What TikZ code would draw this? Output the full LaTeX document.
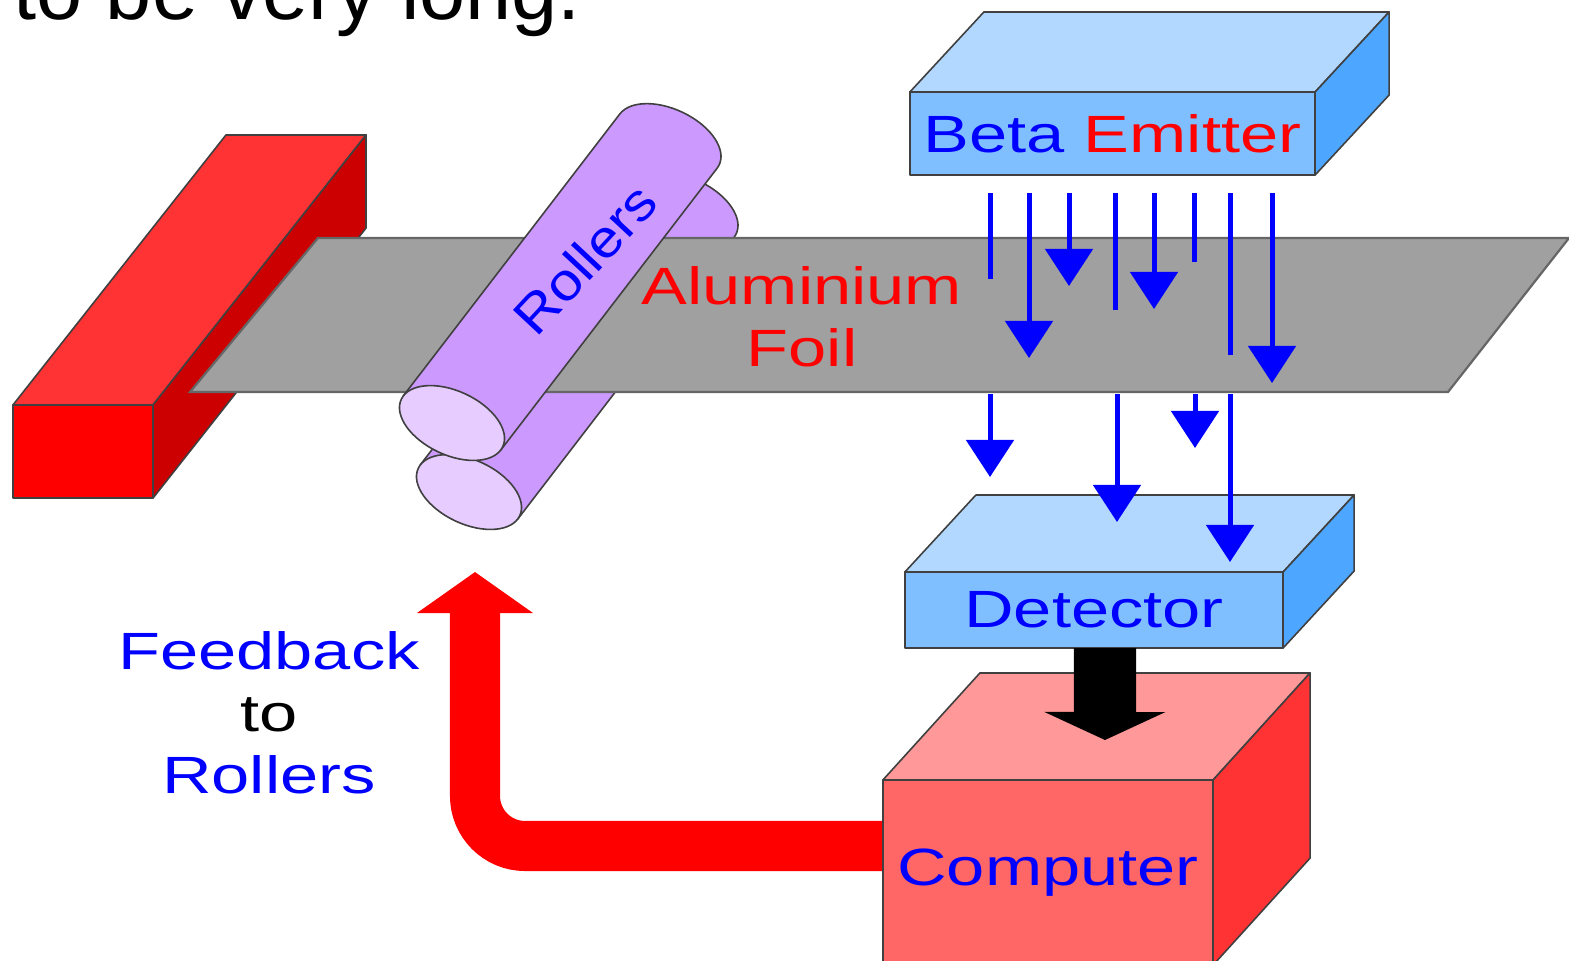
\documentclass[tikz,border=0pt]{standalone}
\usepackage{fontspec}
\setmainfont{Liberation Sans}
\newfontfamily\tagfont[FakeStretch=1.31]{Liberation Sans}
\newfontfamily\rolltagfont[FakeStretch=1.12]{Liberation Sans}
\usetikzlibrary{arrows.meta,calc}

\definecolor{clampfr}{RGB}{255,0,0}
\definecolor{clamptop}{RGB}{255,51,51}
\definecolor{clampside}{RGB}{204,0,0}
\definecolor{rollbody}{RGB}{204,153,255}
\definecolor{rollend}{RGB}{230,204,255}
\definecolor{foilgrey}{RGB}{160,160,160}
\definecolor{boxtop}{RGB}{178,216,255}
\definecolor{boxfront}{RGB}{128,191,255}
\definecolor{boxside}{RGB}{77,166,255}
\definecolor{comptop}{RGB}{255,153,153}
\definecolor{compfront}{RGB}{255,102,102}
\definecolor{compside}{RGB}{255,51,51}
\definecolor{beta}{RGB}{0,0,255}

\begin{document}
\begin{tikzpicture}[
    x=0.01cm, y=-0.01cm,
    tag/.style={font=\tagfont\fontsize{14.9}{17.6}\selectfont, inner sep=0pt,
                align=center},
    face/.style={draw=black!75, line width=0.016cm, line join=round},
    front/.style={face, rectangle, inner sep=0pt, outer sep=0pt},
    foil/.style={draw=black!60, line width=0.022cm, fill=foilgrey},
    ray/.style={draw=beta, line width=0.05cm},
    hit/.style={ray, -{Triangle[width=0.47cm, length=0.37cm]}},
    signal/.style={draw=black, line width=0.62cm,
                   -{Triangle[width=1.2cm, length=0.28cm]}},
    feedback/.style={draw=red, line width=0.5cm, rounded corners=0.5cm,
                     -{Triangle[width=1.14cm, length=0.41cm]}},
  ]
  \useasboundingbox (0,0) rectangle (1569,960);

  %% heading line of the slide, cut at the top
  \node[font=\fontsize{23.6}{28}\selectfont, anchor=base west, inner sep=0pt]
    (head) at (13,19) {to be very long.};

  %% ================================================================
  %% clamp, rollers and foil
  %% ================================================================
  \node[front, fill=clampfr, minimum width=1.40cm, minimum height=0.93cm]
    (clamp) at (83,451.5) {};
  \draw[face, fill=clamptop] (clamp.north west)
    -- ($(clamp.north west)+(213,-270)$) -- ($(clamp.north east)+(213,-270)$)
    -- (clamp.north east) -- cycle;
  \draw[face, fill=clampside] (clamp.north east)
    -- ($(clamp.north east)+(213,-270)$) -- ($(clamp.south east)+(213,-270)$)
    -- (clamp.south east) -- cycle;

  %% lower roller sits under the foil
  \begin{scope}[shift={(469,492)}, rotate=-25]
    \draw[face, fill=rollbody] (55.6,4) -- ++(77,-347)
      arc[start angle=7.2, end angle=-172.8, x radius=56, y radius=32]
      -- (-55.6,-4) -- cycle;
    \draw[face, fill=rollend] (0,0) ellipse [x radius=56, y radius=32];
  \end{scope}

  \draw[foil] (190,392) -- (318,238) -- (1569,238) -- (1448,392) -- cycle;

  %% upper roller lies on the foil
  \begin{scope}[shift={(452,423)}, rotate=-25]
    \draw[face, fill=rollbody] (55.6,4) -- ++(77,-347)
      arc[start angle=7.2, end angle=-172.8, x radius=56, y radius=32]
      -- (-55.6,-4) -- cycle;
    \draw[face, fill=rollend] (0,0) ellipse [x radius=56, y radius=32];
  \end{scope}

  \node[tag, font=\rolltagfont\fontsize{14.9}{17.6}\selectfont, text=blue,
        rotate=47] (rolltag) at (585,259) {Rollers};
  \node[tag, text=red] (foiltag) at (802,317) {Aluminium\\Foil};

  %% ================================================================
  %% emitter, detector and computer
  %% ================================================================
  \node[front, fill=boxfront, minimum width=4.05cm, minimum height=0.83cm,
        tag, text=blue] (emit) at (1112.5,133.5) {Beta \textcolor{red}{Emitter}};
  \draw[face, fill=boxtop] (emit.north west)
    -- ($(emit.north west)+(74,-80)$) -- ($(emit.north east)+(74,-80)$)
    -- (emit.north east) -- cycle;
  \draw[face, fill=boxside] (emit.north east)
    -- ($(emit.north east)+(74,-80)$) -- ($(emit.south east)+(74,-80)$)
    -- (emit.south east) -- cycle;

  \node[front, fill=boxfront, minimum width=3.78cm, minimum height=0.76cm,
        tag, text=blue] (det) at (1094,610) {Detector};
  \draw[face, fill=boxtop] (det.north west)
    -- ($(det.north west)+(71,-77)$) -- ($(det.north east)+(71,-77)$)
    -- (det.north east) -- cycle;
  \draw[face, fill=boxside] (det.north east)
    -- ($(det.north east)+(71,-77)$) -- ($(det.south east)+(71,-77)$)
    -- (det.south east) -- cycle;

  \coordinate (fbin) at (475,572);
  \draw[feedback] ([yshift=0.265cm]1048,872.5) -| (fbin);

  \node[front, fill=compfront, minimum width=3.30cm, minimum height=1.85cm,
        tag, text=blue] (comp) at (1048,872.5) {Computer};
  \draw[face, fill=comptop] (comp.north west)
    -- ($(comp.north west)+(97,-107)$) -- ($(comp.north east)+(97,-107)$)
    -- (comp.north east) -- cycle;
  \draw[face, fill=compside] (comp.north east)
    -- ($(comp.north east)+(97,-107)$) -- ($(comp.south east)+(97,-107)$)
    -- (comp.south east) -- cycle;

  \coordinate (compin) at (1105,740);
  \draw[signal] ([xshift=0.11cm]det.south) -- (compin);

  %% ================================================================
  %% beta rays through the foil
  %% ================================================================
  \draw[ray] (990,193) -- (990,279);
  \draw[hit] (1029,193) -- (1029,358);
  \draw[hit] (1069,193) -- (1069,286);
  \draw[ray] (1115,193) -- (1115,310);
  \draw[hit] (1154,193) -- (1154,309);
  \draw[ray] (1194,193) -- (1194,262);
  \draw[ray] (1230,193) -- (1230,355);
  \draw[hit] (1272,193) -- (1272,383);

  \draw[hit] (990,394) -- (990,477);
  \draw[hit] (1117,394) -- (1117,522);
  \draw[hit] (1195,394) -- (1195,448);
  \draw[hit] (1230,394) -- (1230,562);

  \node[tag, text=blue] (fbtag) at (269,713)
    {Feedback\\\textcolor{black}{to}\\Rollers};

\end{tikzpicture}
\end{document}
